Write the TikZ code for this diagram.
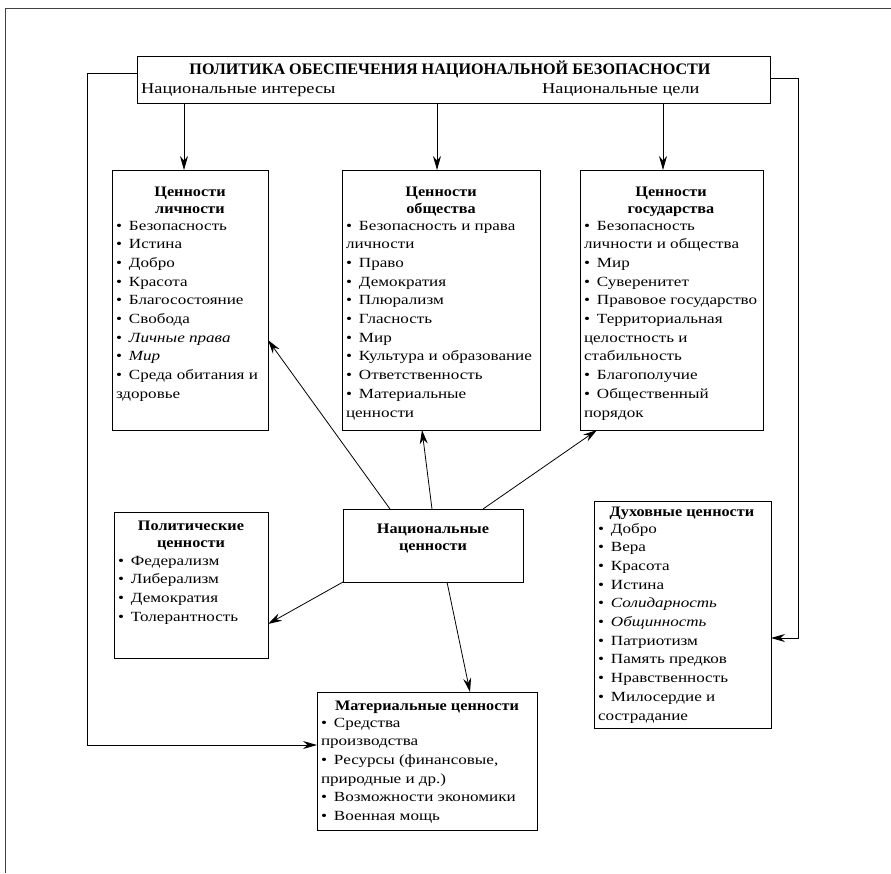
\documentclass[tikz,border=0pt]{standalone}
\usepackage{fontspec}
\setmainfont{Liberation Serif}[FakeStretch=1.22]
\newfontfamily\hfont{Liberation Serif}[FakeStretch=1.12]
\usetikzlibrary{arrows.meta,calc}
\newcommand\bul{\textbullet\hspace{0.5em}}
\newcommand\fl{\rule{0pt}{12pt}}
\begin{document}
\begin{tikzpicture}[x=1pt,y=-1pt,
 frame/.style={draw,line width=0.8pt,inner sep=0pt,outer sep=0pt,anchor=north west},
 itm/.style={anchor=north west,inner sep=0pt,outer sep=0pt,align=left,font=\fontsize{14}{18.7}\selectfont},
 ttl/.style={anchor=north,inner sep=0pt,outer sep=0pt,align=center,font=\hfont\bfseries\fontsize{14.5}{17}\selectfont},
 arr/.style={-{Stealth[length=14pt,width=8pt]},line width=0.8pt},
 pageframe/.style={draw=black!75,line width=1pt}]
\useasboundingbox (0,0) rectangle (891,873);
\draw[pageframe] (5,873) -- (5,8) -- (891,8);

% top box
\node[frame,minimum width=633pt,minimum height=47pt] (top) at (137,56) {};
\node[anchor=base,inner sep=0pt,font=\hfont\bfseries\fontsize{16}{18}\selectfont] (toptitle) at (450,74)
  {\resizebox{521pt}{\height}{ПОЛИТИКА ОБЕСПЕЧЕНИЯ НАЦИОНАЛЬНОЙ БЕЗОПАСНОСТИ}};
\node[anchor=base west,inner sep=0pt,font=\fontsize{15}{18}\selectfont] (ni) at (141,93) {Национальные интересы};
\node[anchor=base west,inner sep=0pt,font=\fontsize{15}{18}\selectfont] (nc) at (542,93) {Национальные цели};

% three value boxes
\node[frame,minimum width=156pt,minimum height=260pt] (b1) at (112,170) {};
\node[ttl] (b1t) at (190,184) {\fl Ценности\\личности};
\node[itm] (b1i) at (116,218) {\fl\bul Безопасность\\
\bul Истина\\
\bul Добро\\
\bul Красота\\
\bul Благосостояние\\
\bul Свобода\\
\bul \textit{Личные права}\\
\bul \textit{Мир}\\
\bul Среда обитания и\\
здоровье};

\node[frame,minimum width=198pt,minimum height=260pt] (b2) at (342,170) {};
\node[ttl] (b2t) at (441,184) {\fl Ценности\\общества};
\node[itm] (b2i) at (346,218) {\fl\bul Безопасность и права\\
личности\\
\bul Право\\
\bul Демократия\\
\bul Плюрализм\\
\bul Гласность\\
\bul Мир\\
\bul Культура и образование\\
\bul Ответственность\\
\bul Материальные\\
ценности};

\node[frame,minimum width=183pt,minimum height=260pt] (b3) at (580,170) {};
\node[ttl] (b3t) at (671,184) {\fl Ценности\\государства};
\node[itm] (b3i) at (584,218) {\fl\bul Безопасность\\
личности и общества\\
\bul Мир\\
\bul Суверенитет\\
\bul Правовое государство\\
\bul Территориальная\\
целостность и\\
стабильность\\
\bul Благополучие\\
\bul Общественный\\
порядок};

% national values
\node[frame,minimum width=180pt,minimum height=73pt] (nat) at (343,509) {};
\node[ttl] (natt) at (433,521) {\fl Национальные\\ценности};

% political values
\node[frame,minimum width=154pt,minimum height=146pt] (pol) at (114,512) {};
\node[ttl] (polt) at (191,518) {\fl Политические\\ценности};
\node[itm] (poli) at (118,553) {\fl\bul Федерализм\\
\bul Либерализм\\
\bul Демократия\\
\bul Толерантность};

% spiritual values
\node[frame,minimum width=177pt,minimum height=227pt] (spir) at (594,501) {};
\node[ttl] (spirt) at (682,504) {\fl Духовные ценности};
\node[itm] (spiri) at (598,521) {\fl\bul Добро\\
\bul Вера\\
\bul Красота\\
\bul Истина\\
\bul \textit{Солидарность}\\
\bul \textit{Общинность}\\
\bul Патриотизм\\
\bul Память предков\\
\bul Нравственность\\
\bul Милосердие и\\
сострадание};

% material values
\node[frame,minimum width=220pt,minimum height=138pt] (mat) at (317,692) {};
\node[ttl] (matt) at (427,698) {\fl Материальные ценности};
\node[itm] (mati) at (321,715) {\fl\bul Средства\\
производства\\
\bul Ресурсы (финансовые,\\
природные и др.)\\
\bul Возможности экономики\\
\bul Военная мощь};

% connectors from the top box
\coordinate (lcorner) at (87,745);
\coordinate (rcorner) at (798,638);
\draw[arr] ($(top.north west)+(0,17)$) -| (lcorner) -- (mat.west |- lcorner);
\draw[arr] ($(top.north east)+(0,22)$) -| (rcorner) -- (spir.east |- rcorner);
\draw[arr] ($(top.south west)+(47,0)$) -- ($(b1.north west)+(72,0)$);
\draw[arr] ($(top.south west)+(300,0)$) -- ($(b2.north west)+(95,0)$);
\draw[arr] ($(top.south west)+(526,0)$) -- ($(b3.north west)+(83,0)$);

% connectors from national values
\draw[arr] ($(nat.north west)+(47,0)$) -- ($(b1.north east)+(0,170)$);
\draw[arr] ($(nat.north west)+(89,0)$) -- ($(b2.south west)+(80,0)$);
\draw[arr] ($(nat.north west)+(140,0)$) -- ($(b3.south west)+(17,0)$);
\draw[arr] (nat.south west) -- ($(pol.north east)+(0,112)$);
\draw[arr] ($(nat.south west)+(104,0)$) -- ($(mat.north west)+(153,0)$);
\end{tikzpicture}
\end{document}
